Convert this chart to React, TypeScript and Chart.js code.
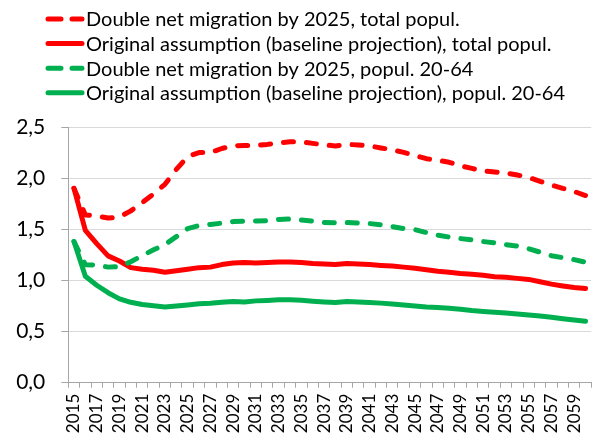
import React, { useEffect, useRef } from 'react';
import { Chart, registerables } from 'chart.js';

Chart.register(...registerables);

const years = [
  '2015', '2016', '2017', '2018', '2019', '2020', '2021', '2022', '2023', '2024',
  '2025', '2026', '2027', '2028', '2029', '2030', '2031', '2032', '2033', '2034',
  '2035', '2036', '2037', '2038', '2039', '2040', '2041', '2042', '2043', '2044',
  '2045', '2046', '2047', '2048', '2049', '2050', '2051', '2052', '2053', '2054',
  '2055', '2056', '2057', '2058', '2059', '2060',
];

const doubleTotal = [
  1.9, 1.64, 1.63, 1.61, 1.62, 1.68, 1.76, 1.845, 1.94, 2.085,
  2.21, 2.25, 2.25, 2.29, 2.315, 2.32, 2.32, 2.33, 2.345, 2.355,
  2.355, 2.34, 2.325, 2.315, 2.33, 2.325, 2.315, 2.295, 2.277, 2.252,
  2.222, 2.19, 2.175, 2.155, 2.12, 2.095, 2.07, 2.06, 2.05, 2.03,
  2.007, 1.968, 1.933, 1.9, 1.87, 1.83,
];

const baseTotal = [
  1.9, 1.49, 1.36, 1.24, 1.19, 1.125, 1.11, 1.1, 1.08, 1.095,
  1.11, 1.125, 1.13, 1.155, 1.17, 1.175, 1.17, 1.175, 1.18, 1.18,
  1.175, 1.166, 1.16, 1.155, 1.166, 1.16, 1.155, 1.147, 1.14, 1.13,
  1.118, 1.105, 1.09, 1.08, 1.068, 1.06, 1.05, 1.036, 1.03, 1.02,
  1.01, 0.987, 0.964, 0.946, 0.93, 0.92,
];

const doubleWorking = [
  1.38, 1.154, 1.15, 1.13, 1.134, 1.183, 1.242, 1.3, 1.35, 1.428,
  1.507, 1.537, 1.547, 1.56, 1.575, 1.58, 1.58, 1.585, 1.595, 1.6,
  1.59, 1.58, 1.567, 1.563, 1.566, 1.56, 1.556, 1.544, 1.526, 1.507,
  1.497, 1.468, 1.443, 1.424, 1.409, 1.396, 1.38, 1.367, 1.35, 1.335,
  1.31, 1.276, 1.242, 1.222, 1.203, 1.178,
];

const baseWorking = [
  1.38, 1.04, 0.953, 0.88, 0.82, 0.786, 0.765, 0.752, 0.74, 0.75,
  0.76, 0.772, 0.776, 0.786, 0.794, 0.79, 0.8, 0.804, 0.81, 0.81,
  0.805, 0.797, 0.79, 0.785, 0.793, 0.788, 0.783, 0.778, 0.769, 0.759,
  0.749, 0.74, 0.735, 0.728, 0.719, 0.706, 0.697, 0.689, 0.681, 0.672,
  0.662, 0.652, 0.64, 0.625, 0.612, 0.6,
];

const seriesLabels = [
  'Double net migration by 2025, total popul.',
  'Original assumption (baseline projection), total popul.',
  'Double net migration by 2025, popul. 20-64',
  'Original assumption (baseline projection), popul. 20-64',
];

const yTicks = [0, 0.5, 1, 1.5, 2, 2.5];

const RED = '#FF0000';
const GREEN = '#00B050';
const FONT = 'Lato, "Open Sans", sans-serif';
const DASH = [10, 13];

const legendPlugin = {
  id: 'customLegend',
  afterDraw(chart: any) {
    const ctx = chart.ctx;
    ctx.save();
    chart.data.datasets.forEach((ds: any, i: number) => {
      const y = 19 + i * 24.6;
      ctx.beginPath();
      ctx.setLineDash(ds.borderDash && ds.borderDash.length ? [13, 11] : []);
      ctx.lineCap = 'round';
      ctx.lineWidth = 5;
      ctx.strokeStyle = ds.borderColor;
      ctx.moveTo(48, y);
      ctx.lineTo(82, y);
      ctx.stroke();
      ctx.setLineDash([]);
      ctx.fillStyle = '#000';
      ctx.font = '20px ' + FONT;
      ctx.textBaseline = 'middle';
      ctx.textAlign = 'left';
      ctx.fillText(ds.label, 86, y + 1);
    });
    ctx.restore();
  },
};

export default function App() {
  const ref = useRef<HTMLCanvasElement>(null);

  useEffect(() => {
    const makeDs = (label: string, data: number[], color: string, dashed: boolean, order: number) => ({
      label,
      data,
      borderColor: color,
      backgroundColor: color,
      borderWidth: 5,
      borderDash: dashed ? DASH : [],
      borderCapStyle: 'round',
      borderJoinStyle: 'round',
      pointRadius: 0,
      pointHoverRadius: 0,
      tension: 0,
      fill: false,
      order,
    });

    const chart = new Chart(ref.current as HTMLCanvasElement, {
      type: 'line',
      data: {
        labels: years,
        datasets: [
          makeDs(seriesLabels[0], doubleTotal, RED, true, 4),
          makeDs(seriesLabels[1], baseTotal, RED, false, 3),
          makeDs(seriesLabels[2], doubleWorking, GREEN, true, 2),
          makeDs(seriesLabels[3], baseWorking, GREEN, false, 1),
        ] as any,
      },
      options: {
        animation: false,
        responsive: false,
        maintainAspectRatio: false,
        layout: { padding: { top: 127, right: 5.5, left: 0, bottom: 0 } },
        plugins: {
          legend: { display: false },
          tooltip: { enabled: false },
        },
        scales: {
          x: {
            type: 'category',
            offset: true,
            grid: {
              display: true,
              drawOnChartArea: false,
              drawTicks: true,
              tickLength: 5,
              offset: true,
              color: '#a6a6a6',
            },
            border: { display: true, color: '#a6a6a6', width: 1 },
            ticks: {
              autoSkip: false,
              minRotation: 90,
              maxRotation: 90,
              padding: 6,
              color: '#000',
              font: { family: FONT, size: 17 },
              callback: (_v: any, idx: number) => (idx % 2 === 0 ? years[idx] : ''),
            },
            afterFit: (scale: any) => {
              scale.height = 52.3;
            },
          },
          y: {
            min: yTicks[0],
            max: yTicks[yTicks.length - 1],
            afterBuildTicks: (scale: any) => {
              scale.ticks = yTicks.map((v) => ({ value: v }));
            },
            grid: {
              color: '#d9d9d9',
              tickColor: '#a6a6a6',
              tickLength: 7,
              drawTicks: true,
            },
            border: { display: true, color: '#a6a6a6', width: 1 },
            ticks: {
              padding: 16,
              color: '#000',
              font: { family: FONT, size: 21 },
              callback: (v: any) => Number(v).toFixed(1).replace('.', ','),
            },
            afterFit: (scale: any) => {
              scale.width = 68.3;
            },
          },
        },
      },
      plugins: [legendPlugin],
    });

    return () => chart.destroy();
  }, []);

  return (
    <div
      style={{
        position: 'absolute',
        left: 0,
        top: 0,
        width: 603,
        height: 435,
        overflow: 'hidden',
        background: '#fff',
      }}
    >
      <canvas ref={ref} width={612} height={435} style={{ display: 'block', width: 612, height: 435 }} />
    </div>
  );
}
